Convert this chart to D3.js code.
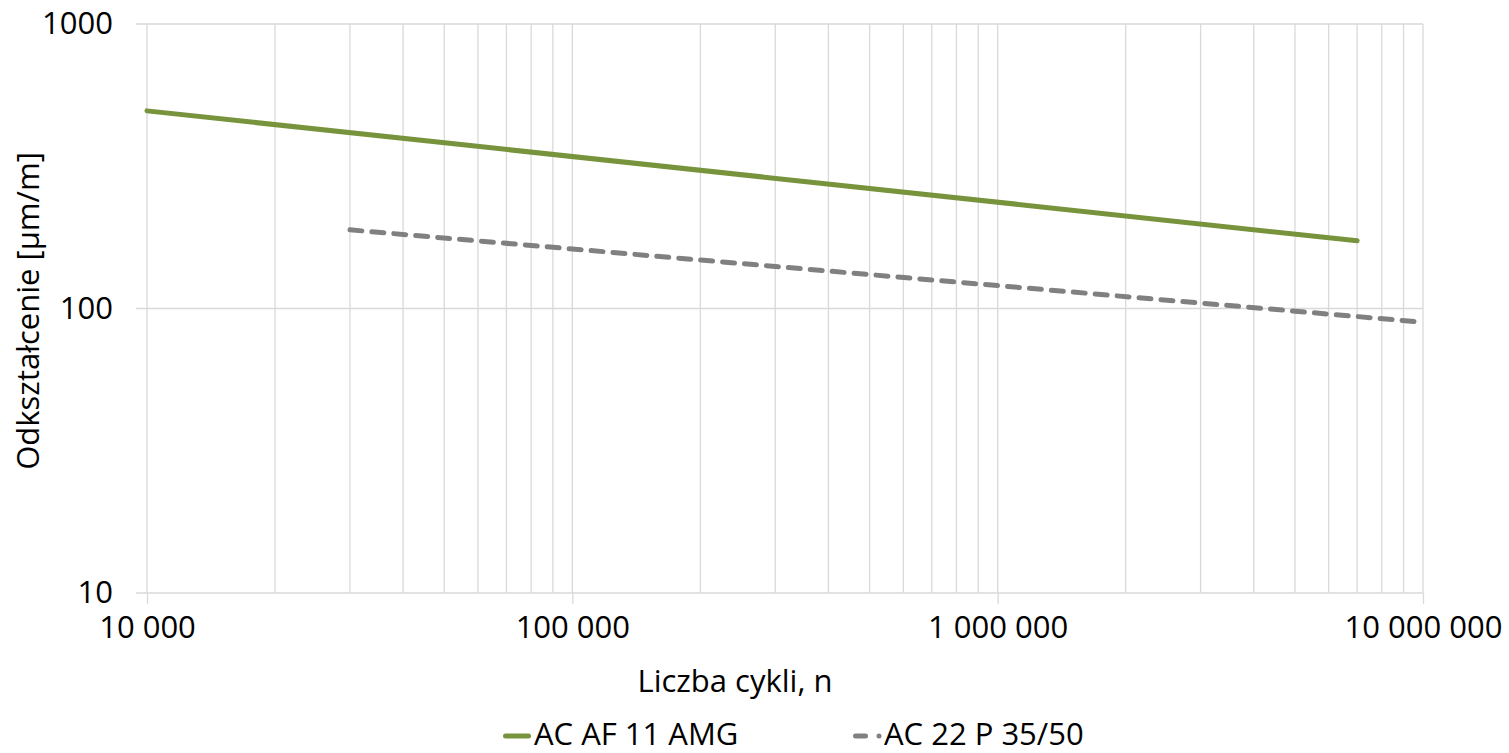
<!DOCTYPE html>
<html>
<head>
<meta charset="utf-8">
<script src="https://cdn.jsdelivr.net/npm/d3@7"></script>
<style>
  body { margin: 0; background: #fff; }
  text { font-family: "Open Sans", sans-serif; fill: #000; }
</style>
</head>
<body>
<script>
// series: [cycles, strain µm/m]
var seriesNames = ["AC AF 11 AMG", "AC 22 P 35/50"];
var seriesColors = ["#77933c", "#808080"];
var amgPoints = [[10000, 495], [7000000, 173]];
var p3550Points = [[30000, 189], [10000000, 89.5]];
var xMajorTicks = [10000, 100000, 1000000, 10000000];
var yMajorTicks = [10, 100, 1000];

// set the dimensions and margins of the graph
var margin = {top: 24, right: 86, bottom: 160, left: 147},
    width = 1509 - margin.left - margin.right,
    height = 753 - margin.top - margin.bottom;

var locale = d3.formatLocale({decimal: ",", thousands: " ", grouping: [3], currency: ["", ""]});
var fmt = locale.format(",d");

var x = d3.scaleLog().domain([10000, 10000000]).range([0, width]);
var y = d3.scaleLog().domain([10, 1000]).range([height, 0]);

var svg = d3.select("body").append("svg")
    .attr("width", 1509)
    .attr("height", 753)
  .append("g")
    .attr("transform", "translate(" + margin.left + "," + margin.top + ")");

var gridColor = "#d9d9d9";

// vertical grid lines at every log tick
svg.append("g").selectAll("line")
    .data(x.ticks())
  .enter().append("line")
    .attr("x1", function(d) { return x(d); })
    .attr("x2", function(d) { return x(d); })
    .attr("y1", 0)
    .attr("y2", height)
    .attr("stroke", gridColor)
    .attr("stroke-width", 1.3);

// horizontal grid lines at the decades
svg.append("g").selectAll("line")
    .data(yMajorTicks)
  .enter().append("line")
    .attr("x1", -11)
    .attr("x2", width)
    .attr("y1", function(d) { return y(d); })
    .attr("y2", function(d) { return y(d); })
    .attr("stroke", gridColor)
    .attr("stroke-width", 1.3);

// X axis
var xAxis = svg.append("g")
    .attr("transform", "translate(0," + height + ")")
    .call(d3.axisBottom(x).tickValues(xMajorTicks).tickSize(11).tickPadding(12).tickFormat(fmt));
xAxis.select(".domain").remove();
xAxis.selectAll("line").attr("stroke", gridColor).attr("stroke-width", 1.3);
xAxis.selectAll("text").style("font-size", "31px").style("font-family", "Open Sans").attr("fill", "#000");

// Y axis
var yAxis = svg.append("g")
    .call(d3.axisLeft(y).tickValues(yMajorTicks).tickSize(0).tickPadding(34).tickFormat(d3.format("d")));
yAxis.select(".domain").remove();
yAxis.selectAll("text").style("font-size", "31px").style("font-family", "Open Sans").attr("fill", "#000");

// lines
var line = d3.line()
    .x(function(d) { return x(d[0]); })
    .y(function(d) { return y(d[1]); });

svg.append("path")
    .datum(amgPoints)
    .attr("d", line)
    .attr("fill", "none")
    .attr("stroke", seriesColors[0])
    .attr("stroke-width", 5)
    .attr("stroke-linecap", "round");

svg.append("path")
    .datum(p3550Points)
    .attr("d", line)
    .attr("fill", "none")
    .attr("stroke", seriesColors[1])
    .attr("stroke-width", 5)
    .attr("stroke-linecap", "round")
    .attr("stroke-dasharray", "12,10");

// axis titles
svg.append("text")
    .attr("text-anchor", "middle")
    .attr("x", 735 - margin.left)
    .attr("y", 692 - margin.top)
    .style("font-size", "31px")
    .text("Liczba cykli, n");

svg.append("text")
    .attr("text-anchor", "middle")
    .attr("transform", "translate(" + (39 - margin.left) + "," + (311 - margin.top) + ")rotate(-90)")
    .style("font-size", "31px")
    .text("Odkształcenie [µm/m]");

// legend
var legend = d3.select("svg").append("g");
legend.append("line")
    .attr("x1", 505.5).attr("x2", 528.5).attr("y1", 736).attr("y2", 736)
    .attr("stroke", seriesColors[0]).attr("stroke-width", 5).attr("stroke-linecap", "round");
legend.append("text")
    .attr("x", 534).attr("y", 745)
    .style("font-size", "31px")
    .text(seriesNames[0]);
legend.append("line")
    .attr("x1", 855.5).attr("x2", 865.5).attr("y1", 736).attr("y2", 736)
    .attr("stroke", seriesColors[1]).attr("stroke-width", 5).attr("stroke-linecap", "round");
legend.append("circle")
    .attr("cx", 879).attr("cy", 736).attr("r", 2.5)
    .attr("fill", seriesColors[1]);
legend.append("text")
    .attr("x", 884).attr("y", 745)
    .style("font-size", "31px")
    .text(seriesNames[1]);
</script>
</body>
</html>
